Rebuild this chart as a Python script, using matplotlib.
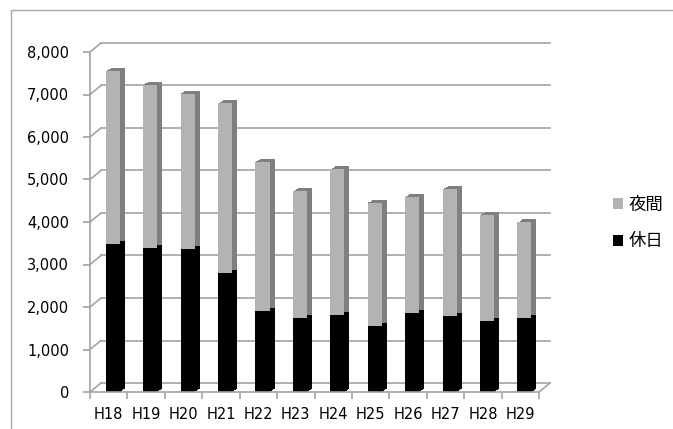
import matplotlib
matplotlib.use("Agg")
import matplotlib.pyplot as plt
from matplotlib.patches import Rectangle
from matplotlib.transforms import ScaledTranslation
import numpy as np

plt.rcParams['font.family'] = ['DejaVu Sans', 'Noto Sans CJK JP']

# データ
years = ["H18", "H19", "H20", "H21", "H22", "H23",
         "H24", "H25", "H26", "H27", "H28", "H29"]
kyujitsu = [3480, 3380, 3360, 2800, 1900, 1740, 1820, 1550, 1860, 1790, 1660, 1730]
yakan = [4070, 3850, 3660, 3990, 3520, 2980, 3420, 2900, 2730, 2980, 2500, 2260]
y_ticks = [0, 1000, 2000, 3000, 4000, 5000, 6000, 7000, 8000]

grid_c = "#a3a3a3"
gray_front = "#b3b3b3"
gray_side = "#7f7f7f"

fig = plt.figure(figsize=(6.73, 4.29), dpi=100)
ax = fig.add_axes([90 / 673, 37 / 429, 449 / 673, 340 / 429])
ax.set_xlim(0, len(years))
ax.set_ylim(0, 8000)

# 奥の壁 (3D風のずれ)
dx = 11 / 449 * len(years)
dy = 9 / 340 * 8000
for v in y_ticks:
    ax.plot([dx, len(years) + dx], [v + dy, v + dy], color=grid_c, lw=1.2, zorder=0.5, clip_on=False)
    ax.plot([0, dx], [v, v + dy], color=grid_c, lw=1.2, zorder=0.5, clip_on=False)
ax.plot([len(years), len(years) + dx], [0, dy], color=grid_c, lw=1.2, zorder=0.5, clip_on=False)

# 棒
x = np.arange(len(years)) + 0.61
w = 0.375
ky = np.array(kyujitsu)
ya = np.array(yakan)
for k in np.linspace(0.15, 1, 7):
    tr = ax.transData + ScaledTranslation(k * 0.05, k * 0.03, fig.dpi_scale_trans)
    ax.bar(x, ya, w, bottom=ky, color=gray_side, transform=tr, zorder=1, linewidth=0)
for k in np.linspace(0.15, 1, 7):
    tr = ax.transData + ScaledTranslation(k * 0.05, k * 0.03, fig.dpi_scale_trans)
    ax.bar(x, ky, w, color="black", transform=tr, zorder=1.5, linewidth=0)
ax.bar(x, ya, w, bottom=ky, color=gray_front, zorder=2, linewidth=0, label="夜間")
ax.bar(x, ky, w, color="black", zorder=2.5, linewidth=0, label="休日")

# 軸
for s in ["top", "right"]:
    ax.spines[s].set_visible(False)
for s in ["left", "bottom"]:
    ax.spines[s].set_color(grid_c)
    ax.spines[s].set_linewidth(1.2)
ax.set_yticks(y_ticks)
ax.set_yticklabels(["{:,}".format(v) for v in y_ticks])
ax.set_xticks(np.arange(len(years)) + 0.5)
ax.set_xticklabels(years)
ax.set_xticks(np.arange(len(years) + 1), minor=True)
ax.tick_params(axis="x", which="major", length=0, pad=11, labelsize=10.5)
ax.tick_params(axis="x", which="minor", length=5, color=grid_c, width=1.2)
ax.tick_params(axis="y", length=5, color=grid_c, width=1.2, pad=10, labelsize=10.5)

# 凡例
h, l = ax.get_legend_handles_labels()
fig.legend(h, l, loc="center left", bbox_to_anchor=(613 / 673, 0.48), frameon=False,
           prop={"family": ["Noto Sans CJK JP"], "size": 12.5},
           handlelength=0.6, handleheight=0.6, handletextpad=0.3,
           labelspacing=1.05, borderpad=0, borderaxespad=0)

# 外枠
fig.patches.append(Rectangle((11 / 673, -0.2), 1.2, 0.2 + 419 / 429, transform=fig.transFigure,
                             fill=False, edgecolor="#a6a6a6", lw=1.0))

fig.savefig("out.png", dpi=100)
